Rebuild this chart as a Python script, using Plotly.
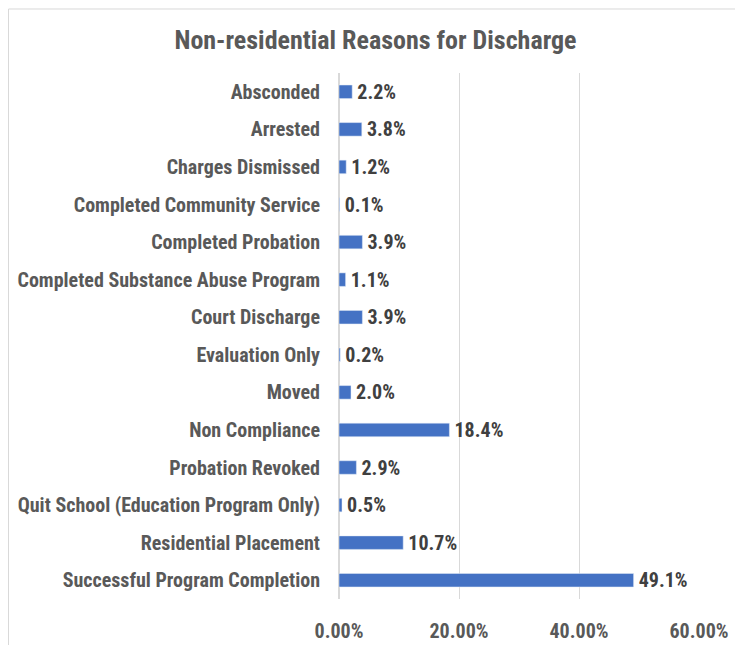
import plotly.graph_objects as go

categories = [
    "Absconded",
    "Arrested",
    "Charges Dismissed",
    "Completed Community Service",
    "Completed Probation",
    "Completed Substance Abuse Program",
    "Court Discharge",
    "Evaluation Only",
    "Moved",
    "Non Compliance",
    "Probation Revoked",
    "Quit School (Education Program Only)",
    "Residential Placement",
    "Successful Program Completion",
]
shares = [0.022, 0.038, 0.012, 0.001, 0.039, 0.011, 0.039, 0.002, 0.020,
          0.184, 0.029, 0.005, 0.107, 0.491]
x_ticks = [0, 0.2, 0.4, 0.6]

FONT = "Liberation Sans Narrow, Roboto Condensed, Arial Narrow, sans-serif"

# the page body keeps its default 8px margin, so the figure is a bit smaller
fig = go.Figure(
    go.Bar(
        x=shares,
        y=categories,
        orientation="h",
        width=0.36,
        marker_color="#4472C4",
        text=[f"\u200a<b>{v * 100:.1f}%</b>" for v in shares],
        textposition="outside",
        constraintext="none",
        textfont=dict(family=FONT, size=20, color="#404040"),
        cliponaxis=False,
    )
)

fig.update_layout(
    width=735,
    height=637,
    margin=dict(l=331, r=44, t=65, b=46),
    paper_bgcolor="white",
    plot_bgcolor="white",
    showlegend=False,
    title=dict(
        text="<b>Non-residential Reasons for Discharge</b>",
        x=0.5,
        xanchor="center",
        y=0.95,
        yanchor="middle",
        font=dict(family=FONT, size=26, color="#595959"),
    ),
    xaxis=dict(
        range=[0, 0.6],
        tickvals=x_ticks,
        ticktext=[f"<b>{t * 100:.2f}%</b>" for t in x_ticks],
        automargin=False,
        showgrid=True,
        gridcolor="#d9d9d9",
        zeroline=True,
        zerolinecolor="#d9d9d9",
        showline=False,
        ticks="",
        tickfont=dict(family=FONT, size=20, color="#595959"),
        ticklabelstandoff=18,
    ),
    yaxis=dict(
        autorange="reversed",
        automargin=False,
        showgrid=False,
        ticks="",
        ticklabelstandoff=18,
        tickfont=dict(family=FONT, size=20, color="#595959"),
        tickprefix="<b>",
        ticksuffix="</b>",
    ),
    shapes=[
        dict(
            type="rect",
            xref="paper",
            yref="paper",
            x0=-0.918,
            x1=1.2,
            y0=-0.2,
            y1=1.1217,
            line=dict(color="#d9d9d9", width=1),
            fillcolor="rgba(0,0,0,0)",
            layer="below",
        )
    ],
)

fig.write_html("out.html")
